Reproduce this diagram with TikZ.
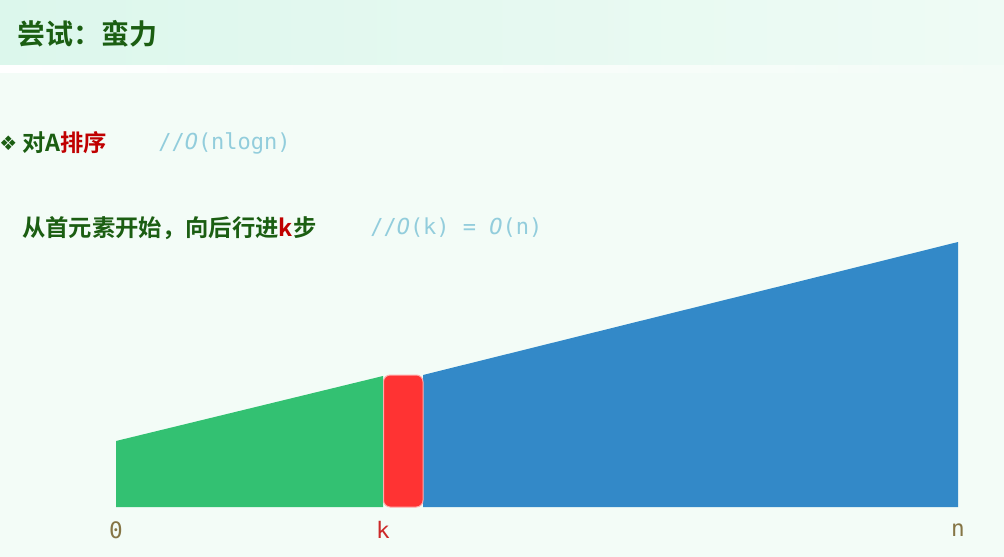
\documentclass[tikz,border=0pt]{standalone}
\usepackage{fontspec}
\setmainfont{Noto Sans CJK SC}[BoldFont={Noto Sans CJK SC Bold}]
\setmonofont{DejaVu Sans Mono}
\newfontfamily\symfont{DejaVu Sans}
\usetikzlibrary{positioning}
\definecolor{pagebg}{HTML}{F3FCF7}
\definecolor{headbg}{HTML}{DCF7EC}
\definecolor{headfade}{HTML}{EFFBF5}
\definecolor{darkgreen}{HTML}{1B5E12}
\definecolor{hotred}{HTML}{C00000}
\definecolor{notecol}{HTML}{92CDDC}
\definecolor{olive}{HTML}{857545}
\definecolor{donegreen}{HTML}{33C172}
\definecolor{pivotred}{HTML}{FF3333}
\definecolor{restblue}{HTML}{3389C8}
\begin{document}
\begin{tikzpicture}[x=0.75pt,y=-0.75pt,
  title/.style={anchor=west,inner sep=0pt,font=\bfseries\fontsize{21}{24}\selectfont,text=darkgreen},
  line/.style={anchor=west,inner sep=0pt,font=\bfseries\fontsize{17.5}{20}\selectfont,text=darkgreen},
  note/.style={anchor=west,inner sep=0pt,font=\ttfamily\fontsize{16.5}{18}\selectfont,text=notecol},
  tick/.style={inner sep=0pt,font=\ttfamily\fontsize{17}{19}\selectfont,text=olive}]
% page and header band
\fill[pagebg] (0,0) rectangle (1004,557);
\useasboundingbox (0,0) rectangle (1004,557);
\shade[left color=headbg,right color=headfade] (0,0) rectangle (1004,65);
\shade[left color=white,right color=pagebg] (0,65) rectangle (1004,72);
\node[title] (T) at (17,34) {尝试：蛮力};

% steps
\node[line,font=\symfont\fontsize{15}{17}\selectfont] (B) at (-1,143) {❖};
\node[line] (S1) at (22,143) {对A\textcolor{hotred}{排序}};
\node[note] (C1) at (158,143) {//\textit{O}(nlogn)};
\node[line] (S2) at (22,228) {从首元素开始，向后行进\textcolor{hotred}{k}步};
\node[note] (C2) at (370,228) {//\textit{O}(k) = \textit{O}(n)};

% the sorted array
\fill[donegreen] (116,507) -- (116,441) -- (383,376) -- (383,507) -- cycle;
\fill[restblue] (423,507) -- (423,375) -- (958,242) -- (958,507) -- cycle;
\draw[fill=pivotred,draw=pivotred!40!white,rounded corners=5pt,line width=0.75pt]
  (383.5,375) rectangle (423,507);
\node[tick] (L0) at (116,530) {0};
\node[tick,text=pivotred!80!black] (LK) at (383,530) {k};
\node[tick] (LN) at (958,530) {n};
\end{tikzpicture}
\end{document}
